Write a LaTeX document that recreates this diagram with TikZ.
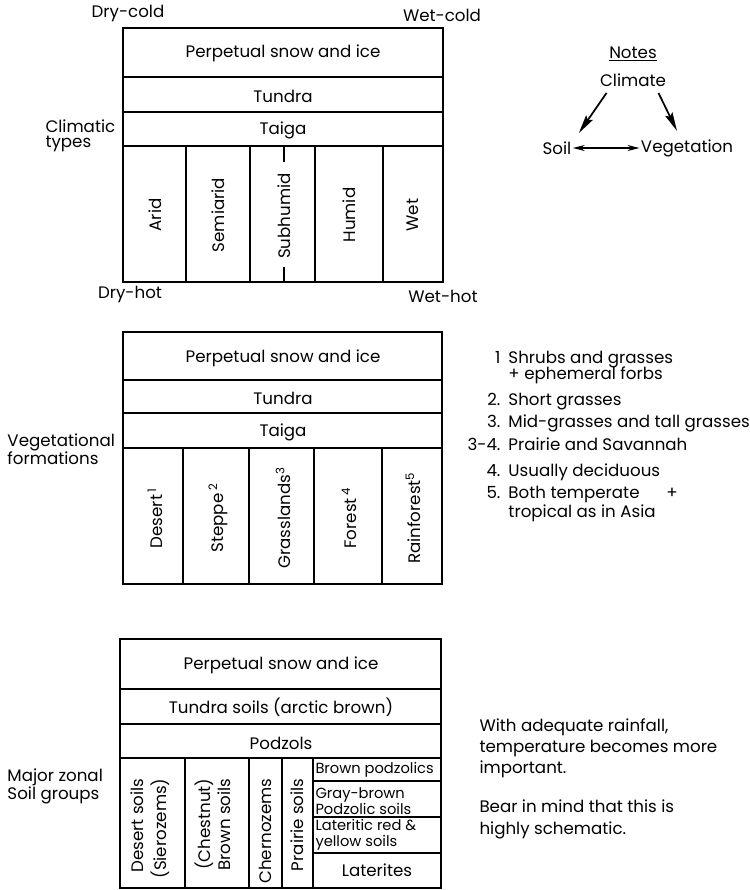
\documentclass[tikz,border=0pt]{standalone}
\usepackage{fontspec}
\setmainfont{Poppins}
\usetikzlibrary{arrows.meta}

\tikzset{every picture/.style={line width=0.75pt}}
\tikzset{
  box/.style={line width=1.2pt},
  lbl/.style={inner sep=0.75pt, font=\fontsize{12.5}{13.5}\selectfont},
  side/.style={lbl, anchor=west, align=left},
  col/.style={lbl, rotate=90},
  cell/.style={inner sep=0.75pt, anchor=west, align=left, font=\fontsize{11}{12}\selectfont},
  arr/.style={-{Stealth[length=14pt,width=6pt,inset=2pt]}, line width=1.3pt},
  dbl/.style={{Stealth[length=9pt,width=4.5pt]}-{Stealth[length=9pt,width=4.5pt]}, line width=0.9pt},
}

\begin{document}
\begin{tikzpicture}[x=0.75pt,y=0.75pt,yscale=-1,xscale=1]
\useasboundingbox (0,0) rectangle (750,890);

%%% Climatic types
%Shape: Rectangle
\draw [box] (123,28) rectangle (443,282) ;
%Straight Lines
\draw [box] (123,77) -- (443,77) ;
\draw [box] (123,112) -- (443,112) ;
\draw [box] (123,146) -- (443,146) ;
\draw [box] (186,146) -- (186,282) ;
\draw [box] (250,146) -- (250,282) ;
\draw [box] (315,146) -- (315,282) ;
\draw [box] (383,146) -- (383,282) ;
\draw [box] (284,146) -- (284,162) ;
\draw [box] (284,267) -- (284,282) ;

% Text Node
\draw (283,53) node [lbl] (csnow) {Perpetual snow and ice};
\draw (283,96) node [lbl] (ctundra) {Tundra};
\draw (283,130) node [lbl] (ctaiga) {Taiga};
\draw (155,215) node [col] (arid) {Arid};
\draw (218,215) node [col] (semiarid) {Semiarid};
\draw (284,216) node [col] (subhumid) {Subhumid};
\draw (349,215) node [col] (humid) {Humid};
\draw (413,215) node [col] (wet) {Wet};
% Text Node
\draw (128,13) node [lbl] (drycold) {Dry-cold};
\draw (442,15) node [lbl] (wetcold) {Wet-cold};
\draw (130,294) node [lbl] (dryhot) {Dry-hot};
\draw (443,296) node [lbl] (wethot) {Wet-hot};
\draw (44,136) node [side, font=\fontsize{12.5}{11.5}\selectfont] (climatic) {Climatic\\types};

%%% Notes
% Text Node
\draw (633,54) node [lbl] (notes) {\underline{Notes}};
\draw (633,80) node [lbl] (clim) {Climate};
\draw (557,148) node [lbl] (soil) {Soil};
\draw (687,148) node [lbl] (veg) {Vegetation};
%Straight Lines
\draw [arr] ([shift={(8,5)}]clim.south west) -- ([shift={(6,-7)}]soil.north east) ;
\draw [arr] ([shift={(-9,5)}]clim.south east) -- ([shift={(-10,-7)}]veg.north) ;
\draw [dbl] (soil.east) -- (veg.west) ;

%%% Vegetational formations
%Shape: Rectangle
\draw [box] (123,332) rectangle (442,584) ;
%Straight Lines
\draw [box] (123,380) -- (442,380) ;
\draw [box] (123,413) -- (442,413) ;
\draw [box] (123,448) -- (442,448) ;
\draw [box] (183,448) -- (183,584) ;
\draw [box] (249,448) -- (249,584) ;
\draw [box] (314,448) -- (314,584) ;
\draw [box] (382,448) -- (382,584) ;

% Text Node
\draw (283,358) node [lbl] (vsnow) {Perpetual snow and ice};
\draw (283,398) node [lbl] (vtundra) {Tundra};
\draw (283,432) node [lbl] (vtaiga) {Taiga};
\draw (155,518) node [col] (desert) {Desert\,\textsuperscript{1}};
\draw (218,518) node [col] (steppe) {Steppe\,\textsuperscript{2}};
\draw (283,518) node [col] (grass) {Grasslands\textsuperscript{3}};
\draw (349,518) node [col] (forest) {Forest\,\textsuperscript{4}};
\draw (413,518) node [col] (rainforest) {Rainforest\textsuperscript{5}};
\draw (6,449) node [side] (vegform) {Vegetational\\formations};

% Text Node
\draw (466,349) node [anchor=north west][inner sep=0.75pt][font=\fontsize{12.5}{13.5}\selectfont] (footnotes) {%
\begin{tabular}{@{}r@{\hspace{6pt}}l@{}}
1 & Shrubs and grasses\\[-1pt]
  & + ephemeral forbs\\[6pt]
2. & Short grasses\\[3pt]
3. & Mid-grasses and tall grasses\\[3pt]
3-4. & Prairie and Savannah\\[6pt]
4. & Usually deciduous\\[3pt]
5. & Both temperate\hspace{1.6em}+\\[1pt]
   & tropical as in Asia
\end{tabular}};

%%% Major zonal soil groups
%Shape: Rectangle
\draw [box] (120,639) rectangle (441,888) ;
%Straight Lines
\draw [box] (120,689) -- (441,689) ;
\draw [box] (120,724) -- (441,724) ;
\draw [box] (120,758) -- (441,758) ;
\draw [box] (185,758) -- (185,888) ;
\draw [box] (249,758) -- (249,888) ;
\draw [box] (282,758) -- (282,888) ;
\draw [box] (313,758) -- (313,888) ;
\draw [box] (313,781) -- (441,781) ;
\draw [box] (313,817) -- (441,817) ;
\draw [box] (313,853) -- (441,853) ;

% Text Node
\draw (281,665) node [lbl] (ssnow) {Perpetual snow and ice};
\draw (281,707) node [lbl] (stundra) {Tundra soils (arctic brown)};
\draw (281,743) node [lbl] (podzols) {Podzols};
\draw (150,777) node [col, anchor=east, align=right, font=\fontsize{12.5}{17}\selectfont] (desertsoil) {Desert soils\\(Sierozems)};
\draw (213,777) node [col, anchor=east, align=right, font=\fontsize{12.5}{15}\selectfont] (chestnut) {(Chestnut)\\Brown soils};
\draw (265,777) node [col, anchor=east] (cherno) {Chernozems};
\draw (297,777) node [col, anchor=east] (prairie) {Prairie soils};
\draw (314,770) node [cell] (brownpod) {Brown podzolics};
\draw (314,801) node [cell] (graybrown) {Gray-brown\\Podzolic soils};
\draw (314,835) node [cell] (lateritic) {Lateritic red \&\\yellow soils};
\draw (377,870) node [lbl] (laterites) {Laterites};
\draw (6,786) node [side] (majorzonal) {Major zonal\\Soil groups};

% Text Node
\draw (478,748) node [side, font=\fontsize{12.5}{15.75}\selectfont] (rainfall) {With adequate rainfall,\\temperature becomes more\\important.};
\draw (478,819) node [side, font=\fontsize{12.5}{16.5}\selectfont] (schematic) {Bear in mind that this is\\highly schematic.};

\end{tikzpicture}
\end{document}
